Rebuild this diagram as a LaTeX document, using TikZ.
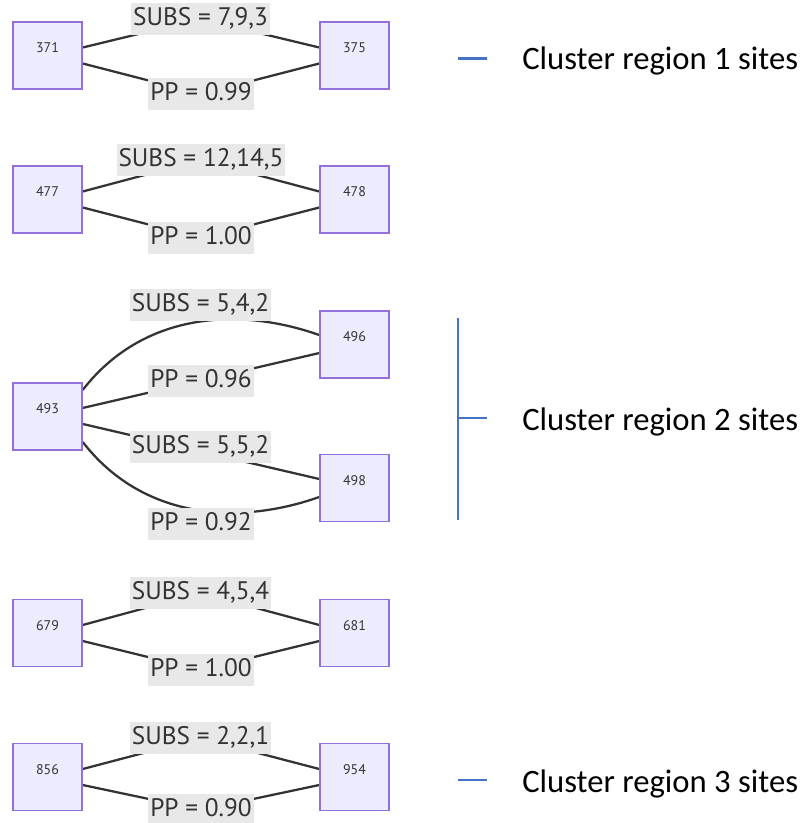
\documentclass[tikz,border=0pt]{standalone}
\usepackage{fontspec}
\newfontfamily\lblfont{PT Sans}
\newfontfamily\legfont{Carlito}
\definecolor{boxfill}{HTML}{ECECFF}
\definecolor{boxborder}{HTML}{9370DB}
\definecolor{labelbg}{HTML}{E8E8E8}
\definecolor{textgray}{HTML}{333333}
\definecolor{edgegray}{HTML}{333333}
\definecolor{legblue}{HTML}{4472C4}
\pgfdeclarelayer{edgelayer}
\pgfsetlayers{edgelayer,main}
\begin{document}
\begin{tikzpicture}[x=0.75pt,y=-0.75pt,
  site/.style={draw=boxborder, fill=boxfill, line width=1.1pt, minimum width=51.75pt, minimum height=50.25pt, inner sep=0pt, font=\lblfont\fontsize{10.5}{12}\selectfont, text=textgray, text height=8pt, text depth=12.5pt},
  elabel/.style={fill=labelbg, inner xsep=1.5pt, inner ysep=3.5pt, font=\lblfont\fontsize{19}{21}\selectfont, text=textgray, text height=13.5pt, text depth=3.5pt},
  edge/.style={draw=edgegray, line width=1.7pt, rounded corners=30pt},
  legline/.style={draw=legblue, line width=1.6pt},
  legtext/.style={font=\legfont\fontsize{24.5}{28}\selectfont, anchor=base west, inner sep=0pt, text=black}]
\useasboundingbox (0,0) rectangle (802,823);
% nodes
\node[site] (n371) at (47.5,55.5) {371};
\node[site] (n375) at (354.5,55.5) {375};
\node[site] (n477) at (47.5,199.5) {477};
\node[site] (n478) at (354.5,199.5) {478};
\node[site] (n493) at (47.5,416.5) {493};
\node[site] (n496) at (354.5,344.5) {496};
\node[site] (n498) at (354.5,488) {498};
\node[site] (n679) at (47.5,633) {679};
\node[site] (n681) at (354.5,633) {681};
\node[site] (n856) at (47.5,777) {856};
\node[site] (n954) at (354.5,777) {954};
% edge labels
\node[elabel] (l1a) at (200.5,19) {SUBS = 7,9,3};
\node[elabel] (l1b) at (201,94) {PP = 0.99};
\node[elabel] (l2a) at (201,160) {SUBS = 12,14,5};
\node[elabel] (l2b) at (201,238) {PP = 1.00};
\node[elabel] (l3a) at (200.5,305) {SUBS = 5,4,2};
\node[elabel] (l3b) at (201,381) {PP = 0.96};
\node[elabel] (l3c) at (200.5,447) {SUBS = 5,5,2};
\node[elabel] (l3d) at (201,524) {PP = 0.92};
\node[elabel] (l4a) at (200.5,593) {SUBS = 4,5,4};
\node[elabel] (l4b) at (201,670) {PP = 1.00};
\node[elabel] (l5a) at (200.5,738) {SUBS = 2,2,1};
\node[elabel] (l5b) at (201,810) {PP = 0.90};
% edges (behind labels and boxes)
\begin{pgfonlayer}{edgelayer}
\draw[edge] ([yshift=6pt]n371.east) -- (l1a.center) -- ([yshift=6pt]n375.west);
\draw[edge] ([yshift=-6pt]n371.east) -- (l1b.center) -- ([yshift=-6pt]n375.west);
\draw[edge] ([yshift=6pt]n477.east) -- (l2a.center) -- ([yshift=6pt]n478.west);
\draw[edge] ([yshift=-6pt]n477.east) -- (l2b.center) -- ([yshift=-6pt]n478.west);
\draw[edge] ([yshift=19.9pt]n493.east) .. controls +(58,-75) and +(-85,-30) .. ([yshift=7.1pt]n496.west);
\draw[edge] ([yshift=6.4pt]n493.east) -- ([yshift=-6.4pt]n496.west);
\draw[edge] ([yshift=-5.6pt]n493.east) -- ([yshift=6.75pt]n498.west);
\draw[edge] ([yshift=-19.1pt]n493.east) .. controls +(58,75) and +(-85,30) .. ([yshift=-6.75pt]n498.west);
\draw[edge] ([yshift=6pt]n679.east) -- (l4a.center) -- ([yshift=6pt]n681.west);
\draw[edge] ([yshift=-6pt]n679.east) -- (l4b.center) -- ([yshift=-6pt]n681.west);
\draw[edge] ([yshift=6pt]n856.east) -- (l5a.center) -- ([yshift=6pt]n954.west);
\draw[edge] ([yshift=-6pt]n856.east) -- (l5b.center) -- ([yshift=-6pt]n954.west);
\end{pgfonlayer}
% legend
\coordinate (t1a) at (458,58.5);
\coordinate (t1b) at (487,58.5);
\draw[legline] (t1a) -- (t1b);
\node[legtext] (c1) at (522,70) {Cluster region 1 sites};
\coordinate (v2a) at (458,318);
\coordinate (v2b) at (458,520);
\coordinate (t2a) at (458,418);
\coordinate (t2b) at (487,418);
\draw[legline] (v2a) -- (v2b);
\draw[legline] (t2a) -- (t2b);
\node[legtext] (c2) at (522,430) {Cluster region 2 sites};
\coordinate (t3a) at (458,780);
\coordinate (t3b) at (487,780);
\draw[legline] (t3a) -- (t3b);
\node[legtext] (c3) at (522,792) {Cluster region 3 sites};
\end{tikzpicture}
\end{document}
